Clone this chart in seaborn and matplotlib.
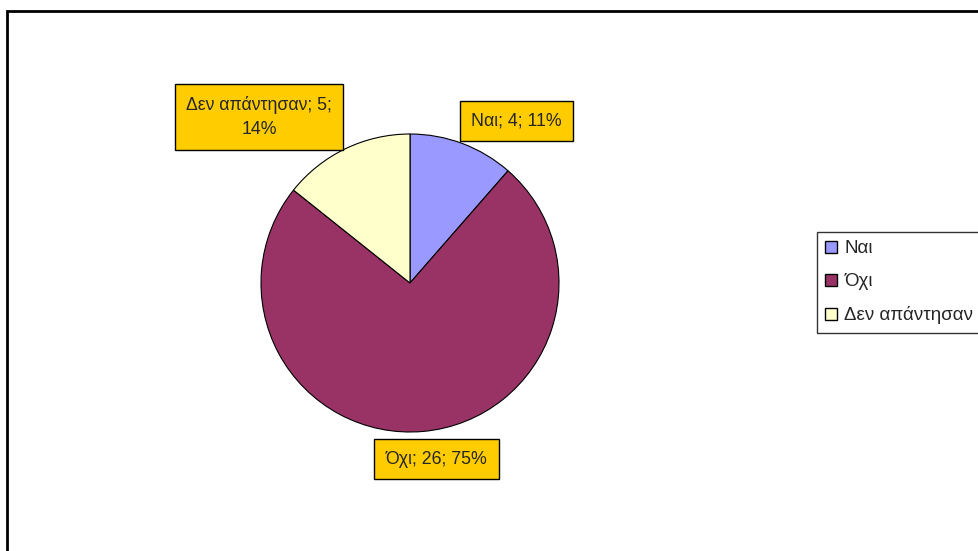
import matplotlib
matplotlib.use("Agg")
import matplotlib.pyplot as plt
import seaborn as sns
from matplotlib.patches import Rectangle

categories = ["Ναι", "Όχι", "Δεν απάντησαν"]
counts = [4, 26, 5]
percent_labels = [11, 75, 14]
colors = ["#9999FF", "#993366", "#FFFFCC"]

sns.set_theme(style="white")
plt.rcParams["font.family"] = ["Liberation Sans", "DejaVu Sans"]

W, H = 979, 551
fig = plt.figure(figsize=(W / 100, H / 100), dpi=100)
ax = fig.add_axes([0, 0, 1, 1])

# outer chart-area frame (runs off the right and bottom edges)
ax.add_patch(Rectangle((7, -10), W + 20, H - 11 + 10, fill=False,
                       edgecolor="black", linewidth=2))

cx, cy, r = 410, H - 283, 149
wedges, _ = ax.pie(counts, colors=colors, startangle=90, counterclock=False,
                   center=(cx, cy), radius=r, frame=True,
                   wedgeprops=dict(edgecolor="black", linewidth=0.8))
ax.set_xlim(0, W)
ax.set_ylim(0, H)
ax.set_aspect("equal")
ax.axis("off")

# data labels: category; value; percent
label_pos = [(516.5, H - 121), (436.5, H - 459), (259, H - 117)]
texts = [f"{c}; {v}; {p}%" for c, v, p in zip(categories, counts, percent_labels)]
texts[2] = f"{categories[2]}; {counts[2]};\n{percent_labels[2]}%"
for (x, y), t in zip(label_pos, texts):
    ax.text(x, y, t, ha="center", va="center", fontsize=12.8,
            linespacing=1.6,
            bbox=dict(boxstyle="square,pad=0.65", facecolor="#FFCC00",
                      edgecolor="black", linewidth=1))

handles = [Rectangle((0, 0), 1, 1, facecolor=c, edgecolor="black", linewidth=1)
           for c in colors]
leg = ax.legend(handles, categories, loc="upper left",
                bbox_to_anchor=(817 / W, 1 - 232 / H), fontsize=13.5,
                frameon=True, fancybox=False, handlelength=0.6,
                handleheight=0.6, handletextpad=0.4, labelspacing=0.85,
                borderpad=0.45, borderaxespad=0)
leg.get_frame().set_edgecolor("black")
leg.get_frame().set_linewidth(1)

fig.savefig("out.png", dpi=100, facecolor="white")
